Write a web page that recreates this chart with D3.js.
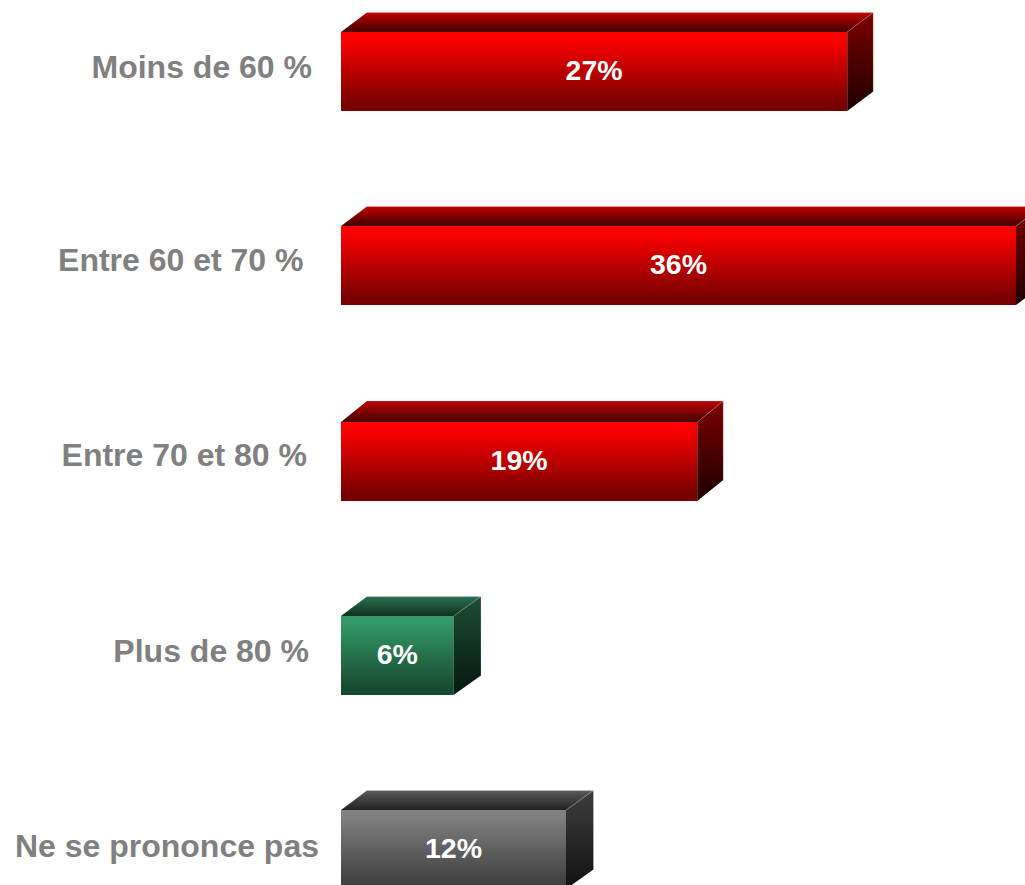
<!DOCTYPE html>
<html lang="fr">
<head>
    <meta charset="UTF-8">
    <title>Répartition</title>
    <style>
        html, body { margin: 0; padding: 0; background: #fff; overflow: hidden; }
        svg { display: block; }
        text { font-family: "Liberation Sans", Arial, sans-serif; font-weight: bold; }
    </style>
</head>
<body>
    <div id="chart"></div>
    <script src="https://d3js.org/d3.v7.min.js"></script>
    <script>
        const categories = ["Moins de 60 %", "Entre 60 et 70 %", "Entre 70 et 80 %", "Plus de 80 %", "Ne se prononce pas"];
        const values = [27, 36, 19, 6, 12];
        const colorKeys = ["red", "red", "red", "green", "grey"];

        const width = 1025;
        const height = 885;
        const barHeight = 79;
        const depthX = 26;
        // rows and labels in the original are placed by hand, not evenly
        const rowTops = [32, 226, 422, 616, 810];
        const rowDepths = [19.5, 19.5, 21, 19.5, 19.5];
        const labelRight = [312, 303.5, 307, 309, 319];
        const labelDy = [46, 45, 44, 46, 47];

        // colours, then how far the side face sticks out
        const palette = {
            red: { front: ["#ff0000", "#760000"], top: ["#c00000", "#420000"], side: ["#7c0000", "#1e0000"], sideX: 26 },
            green: { front: ["#339966", "#174a30"], top: ["#287350", "#12301f"], side: ["#1c4e34", "#06170f"], sideX: 27.5 },
            grey: { front: ["#808080", "#404040"], top: ["#5a5a5a", "#222222"], side: ["#3e3e3e", "#111111"], sideX: 27.5 }
        };

        const svg = d3.select("#chart").append("svg")
            .attr("width", width)
            .attr("height", height);

        const defs = svg.append("defs");

        function addGradient(id, colors, firstStop, lastStop) {
            const g = defs.append("linearGradient")
                .attr("id", id)
                .attr("x1", 0).attr("y1", 0)
                .attr("x2", 0).attr("y2", 1);
            g.append("stop").attr("offset", firstStop).attr("stop-color", colors[0]);
            g.append("stop").attr("offset", lastStop).attr("stop-color", colors[1]);
        }

        Object.keys(palette).forEach(key => {
            const c = palette[key];
            addGradient(key + "-front", c.front, "8%", "92%");
            addGradient(key + "-top", c.top, "0%", "100%");
            addGradient(key + "-side", c.side, "0%", "100%");
        });

        const x = d3.scaleLinear().domain([0, 36]).range([341, 1016]);
        const y = d3.scaleOrdinal().domain(categories).range(rowTops);

        const rows = categories.map((name, i) => ({
            name: name,
            value: values[i],
            key: colorKeys[i],
            right: labelRight[i],
            dy: labelDy[i],
            depthY: rowDepths[i],
            sideX: palette[colorKeys[i]].sideX
        }));

        const bars = svg.selectAll("g.bar")
            .data(rows)
            .enter()
            .append("g")
            .attr("class", "bar");

        // front
        bars.append("rect")
            .attr("x", x(0))
            .attr("y", d => y(d.name))
            .attr("width", d => x(d.value) - x(0))
            .attr("height", barHeight)
            .attr("fill", d => `url(#${d.key}-front)`);

        // top face
        bars.append("path")
            .attr("d", d => {
                const l = x(0), r = x(d.value), t = y(d.name);
                return `M${l},${t}L${l + depthX},${t - d.depthY}L${r + d.sideX},${t - d.depthY}L${r},${t}Z`;
            })
            .attr("fill", d => `url(#${d.key}-top)`);

        // side face
        bars.append("path")
            .attr("d", d => {
                const r = x(d.value), t = y(d.name);
                return `M${r},${t}L${r + d.sideX},${t - d.depthY}L${r + d.sideX},${t - d.depthY + barHeight}L${r},${t + barHeight}Z`;
            })
            .attr("fill", d => `url(#${d.key}-side)`);

        // pale highlight along the back edges
        bars.append("path")
            .attr("d", d => {
                const l = x(0), r = x(d.value), t = y(d.name);
                return `M${l + depthX},${t - d.depthY}L${r + d.sideX},${t - d.depthY}L${r + d.sideX},${t - d.depthY + barHeight}M${r},${t}L${r + d.sideX},${t - d.depthY}`;
            })
            .attr("fill", "none")
            .attr("stroke", "#ffffff")
            .attr("stroke-opacity", 0.2)
            .attr("stroke-width", 1);

        // category labels
        bars.append("text")
            .attr("x", d => d.right)
            .attr("y", d => y(d.name) + d.dy)
            .attr("text-anchor", "end")
            .attr("font-size", 32)
            .attr("fill", "#808080")
            .text(d => d.name);

        // value labels
        bars.append("text")
            .attr("x", d => (x(0) + x(d.value)) / 2)
            .attr("y", d => y(d.name) + 48)
            .attr("text-anchor", "middle")
            .attr("font-size", 28.5)
            .attr("fill", "#ffffff")
            .text(d => d.value + "%");
    </script>
</body>
</html>
